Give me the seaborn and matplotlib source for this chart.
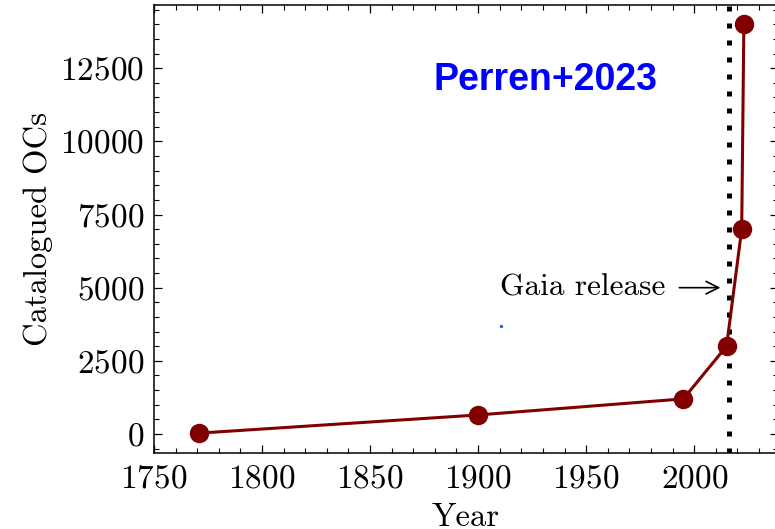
import matplotlib
matplotlib.use("Agg")
import matplotlib.pyplot as plt
from matplotlib.ticker import MultipleLocator
import seaborn as sns
import pandas as pd

# Open-cluster catalogues over time
years = [1771, 1900, 1995, 2015, 2022, 2023]
counts = [30, 650, 1200, 3000, 7000, 14000]

gaia_year = 2016
stray_x = [1910.6]
stray_y = [3680]

sns.set_theme(style="ticks")
plt.rcParams.update({
    "font.family": "serif",
    "font.serif": ["cmr10", "DejaVu Serif"],
    "mathtext.fontset": "cm",
    "axes.formatter.use_mathtext": True,
    "axes.unicode_minus": False,
    "font.size": 22,
    "text.color": "black",
    "axes.labelcolor": "black",
    "axes.edgecolor": "black",
    "xtick.color": "black",
    "ytick.color": "black",
    "axes.linewidth": 1.1,
    "xtick.direction": "in",
    "ytick.direction": "in",
    "xtick.top": True,
    "ytick.right": True,
    "xtick.minor.visible": True,
    "ytick.minor.visible": True,
})

df = pd.DataFrame({"Year": years, "Catalogued OCs": counts})

W, H = 775, 529
fig = plt.figure(figsize=(W / 100, H / 100), dpi=100)
ax = fig.add_axes([154 / W, (H - 453) / H, (778 - 154) / W, (453 - 5) / H])

sns.lineplot(data=df, x="Year", y="Catalogued OCs", ax=ax, color="#800000",
             linewidth=2.2, marker="o", markersize=14, markeredgewidth=0)

ax.axvline(gaia_year, color="black", linewidth=3.6,
           linestyle=(0, (1, 2.4)), zorder=1)

ax.annotate("Gaia release", xy=(gaia_year, 5000), xytext=(1986.5, 5000),
            ha="right", va="center", fontsize=22.5,
            arrowprops=dict(arrowstyle="->", color="black", lw=1.2,
                            shrinkA=8, shrinkB=6))

ax.scatter(stray_x, stray_y, s=6, color="#1a5cff", linewidths=0, zorder=3)

ax.text(1931, 12100, "Perren+2023", color="blue", fontsize=27,
        fontweight="bold", family=["Liberation Sans", "DejaVu Sans"],
        ha="center", va="center")

ax.set_xlim(1750, 2038.8)
ax.set_ylim(-650, 14660)
ax.xaxis.set_major_locator(MultipleLocator(50))
ax.xaxis.set_minor_locator(MultipleLocator(10))
ax.yaxis.set_major_locator(MultipleLocator(2500))
ax.yaxis.set_minor_locator(MultipleLocator(500))
ax.tick_params(which="major", length=6, width=0.9, labelsize=24, pad=7)
ax.tick_params(axis="x", which="major", pad=8.5)
ax.tick_params(which="minor", length=3.5, width=0.8)

ax.set_xlabel("Year", fontsize=23.5, labelpad=6.5)
ax.set_ylabel("Catalogued OCs", fontsize=23.5, labelpad=5)

fig.savefig("out.png", dpi=100)
